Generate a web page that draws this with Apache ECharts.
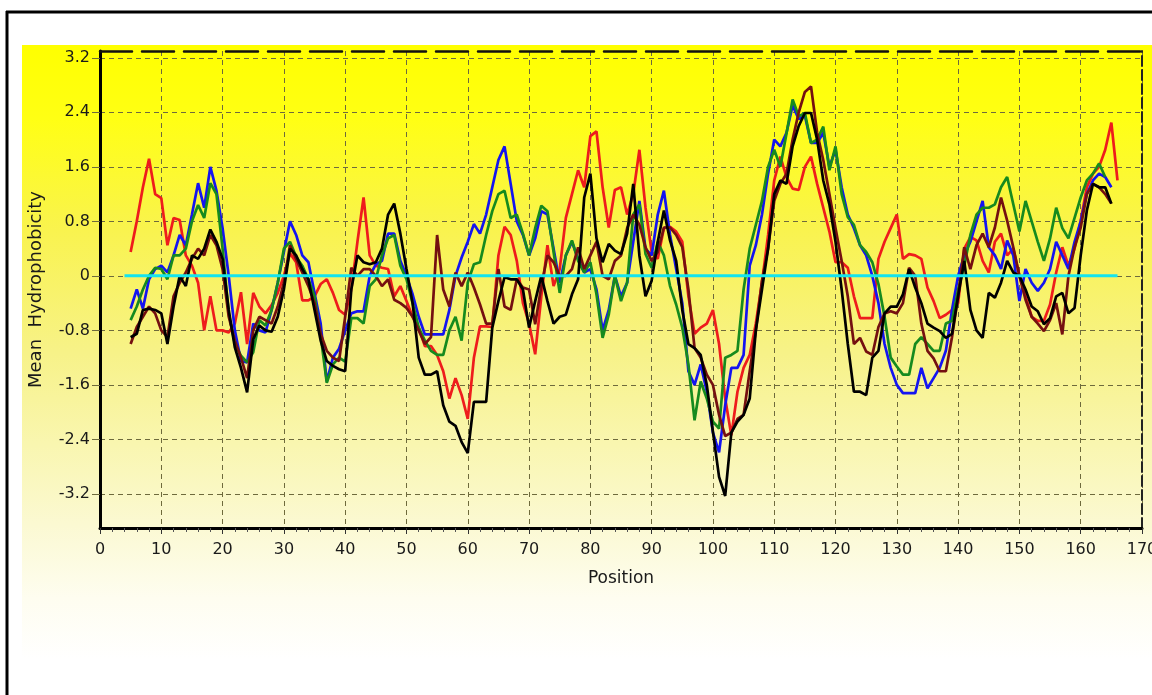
<!DOCTYPE html>
<html>
<head>
<meta charset="utf-8">
<script src="https://cdn.jsdelivr.net/npm/echarts@6/dist/echarts.min.js"></script>
<style>
html,body{margin:0;padding:0;background:#ffffff;}
#c{width:1152px;height:695px;}
</style>
</head>
<body>
<div id="c"></div>
<script>
// ---- data (positions start at 5, step 1) ----
const startPosition = 5;
const yTickValues = [-3.2, -2.4, -1.6, -0.8, 0, 0.8, 1.6, 2.4, 3.2];
const zeroLinePositions = [4, 166];
const zeroLineValues = [0, 0];

const redValues = [
  0.35, 0.8, 1.3, 1.72, 1.2, 1.14, 0.45, 0.85, 0.82, 0.3,
  0.15, -0.1, -0.8, -0.3, -0.8, -0.8, -0.83, -0.7, -0.24, -1.0,
  -0.25, -0.45, -0.55, -0.43, -0.25, 0.0, 0.33, 0.2, -0.36, -0.36,
  -0.3, -0.12, -0.05, -0.25, -0.5, -0.57, -0.2, 0.5, 1.15, 0.3,
  0.15, 0.12, 0.1, -0.3, -0.15, -0.37, -0.6, -0.76, -1.03, -1.03,
  -1.16, -1.4, -1.8, -1.5, -1.75, -2.1, -1.2, -0.74, -0.74, -0.75,
  0.3, 0.72, 0.6, 0.22, -0.4, -0.7, -1.15, -0.3, 0.45, -0.15,
  0.1, 0.85, 1.2, 1.55, 1.3, 2.05, 2.12, 1.3, 0.71, 1.26,
  1.3, 0.9, 1.2, 1.85, 1.0, 0.35, 0.25, 0.7, 0.72, 0.65,
  0.5, -0.3, -0.85, -0.76, -0.7, -0.5, -1.0, -1.8, -2.34, -1.7,
  -1.35, -1.16, -0.7, -0.1, 0.6, 1.4, 1.75, 1.45, 1.28, 1.26,
  1.6, 1.75, 1.35, 1.0, 0.65, 0.2, 0.2, 0.12, -0.3, -0.62,
  -0.62, -0.62, 0.25, 0.5, 0.7, 0.9, 0.25, 0.32, 0.3, 0.25,
  -0.17, -0.37, -0.62, -0.57, -0.5, -0.4, 0.4, 0.57, 0.52, 0.22,
  0.05, 0.5, 0.62, 0.3, 0.4, 0.0, -0.3, -0.6, -0.66, -0.66,
  -0.42, 0.05, 0.42, 0.15, 0.4, 0.81, 1.3, 1.5, 1.6, 1.85,
  2.25, 1.4
];

const blueValues = [
  -0.48, -0.2, -0.48, -0.05, 0.1, 0.15, 0.05, 0.3, 0.6, 0.45,
  0.9, 1.36, 1.0, 1.6, 1.25, 0.7, 0.0, -0.8, -1.25, -1.27,
  -0.7, -0.8, -0.83, -0.5, -0.1, 0.35, 0.8, 0.6, 0.3, 0.2,
  -0.25, -0.7, -1.55, -1.2, -1.07, -0.8, -0.55, -0.52, -0.52, 0.0,
  0.17, 0.22, 0.62, 0.62, 0.22, 0.0, -0.27, -0.6, -0.86, -0.86,
  -0.86, -0.86, -0.5, 0.0, 0.27, 0.5, 0.76, 0.62, 0.9, 1.3,
  1.7, 1.9, 1.35, 0.8, 0.6, 0.3, 0.55, 0.95, 0.9, 0.4,
  -0.1, 0.3, 0.5, 0.25, 0.05, 0.1, -0.2, -0.8, -0.5, 0.0,
  -0.3, -0.1, 0.5, 1.1, 0.4, 0.3, 0.9, 1.25, 0.6, 0.1,
  -0.4, -1.4, -1.6, -1.3, -1.7, -2.3, -2.59, -1.9, -1.35, -1.35,
  -1.16, 0.15, 0.45, 0.9, 1.5, 2.0, 1.9, 2.1, 2.5, 2.3,
  2.35, 1.95, 1.95, 2.1, 1.6, 1.85, 1.3, 0.9, 0.7, 0.45,
  0.3, 0.0, -0.4, -1.0, -1.35, -1.6, -1.72, -1.72, -1.72, -1.35,
  -1.65, -1.5, -1.35, -1.1, -0.5, 0.0, 0.3, 0.5, 0.8, 1.1,
  0.42, 0.3, 0.1, 0.52, 0.3, -0.37, 0.1, -0.1, -0.22, -0.1,
  0.1, 0.5, 0.3, 0.1, 0.5, 0.8, 1.2, 1.4, 1.5, 1.45,
  1.3
];

const greenValues = [
  -0.65, -0.45, -0.2, 0.0, 0.12, 0.1, -0.05, 0.3, 0.3, 0.4,
  0.8, 1.04, 0.85, 1.36, 1.2, 0.4, -0.55, -1.0, -1.17, -1.27,
  -1.12, -0.65, -0.73, -0.5, -0.1, 0.4, 0.5, 0.28, 0.15, -0.05,
  -0.3, -0.88, -1.57, -1.3, -1.2, -1.26, -0.62, -0.62, -0.7, -0.15,
  -0.05, 0.3, 0.55, 0.6, 0.15, -0.05, -0.4, -0.76, -0.95, -1.1,
  -1.16, -1.16, -0.8, -0.6, -0.95, -0.1, 0.17, 0.2, 0.6, 0.95,
  1.2, 1.25, 0.85, 0.9, 0.62, 0.3, 0.7, 1.03, 0.95, 0.35,
  -0.25, 0.3, 0.52, 0.22, 0.05, 0.2, -0.27, -0.91, -0.57, 0.0,
  -0.37, -0.1, 0.9, 1.05, 0.32, 0.12, 0.5, 0.3, -0.15, -0.42,
  -0.76, -1.3, -2.12, -1.55, -1.8, -2.14, -2.24, -1.2, -1.16, -1.1,
  -0.2, 0.4, 0.75, 1.1, 1.6, 1.85, 1.6, 2.09, 2.59, 2.34,
  2.39, 1.95, 2.0, 2.19, 1.55, 1.9, 1.2, 0.86, 0.75, 0.45,
  0.35, 0.2, -0.12, -0.6, -1.2, -1.33, -1.45, -1.45, -1.0, -0.9,
  -1.0, -1.1, -1.1, -0.7, -0.66, -0.2, 0.15, 0.6, 0.9, 1.0,
  1.0, 1.05, 1.3, 1.45, 1.05, 0.65, 1.1, 0.8, 0.5, 0.22,
  0.55, 1.0, 0.7, 0.55, 0.85, 1.15, 1.4, 1.5, 1.65, 1.45
];

const maroonValues = [
  -1.0, -0.75, -0.6, -0.45, -0.55, -0.8, -0.9, -0.3, -0.1, 0.05,
  0.25, 0.4, 0.3, 0.6, 0.45, 0.1, -0.6, -0.95, -1.2, -1.5,
  -0.8, -0.6, -0.65, -0.7, -0.45, -0.1, 0.45, 0.25, 0.05, -0.15,
  -0.4, -0.85, -1.1, -1.2, -1.25, -0.6, 0.12, 0.0, 0.1, 0.1,
  0.0, -0.15, -0.05, -0.35, -0.4, -0.47, -0.6, -0.8, -1.0, -0.9,
  0.6, -0.2, -0.45, 0.05, -0.15, 0.05, -0.17, -0.42, -0.7, -0.7,
  0.1, -0.45, -0.5, -0.05, -0.17, -0.2, -0.71, -0.15, 0.3, 0.2,
  0.0, 0.0, 0.1, 0.42, 0.1, 0.3, 0.5, 0.0, -0.05, 0.22,
  0.3, 0.7, 0.9, 0.75, 0.42, 0.22, 0.35, 0.71, 0.71, 0.6,
  0.42, -0.2, -1.06, -1.2, -1.45, -1.6, -2.04, -2.35, -2.3, -2.1,
  -2.04, -1.4, -0.8, -0.07, 0.4, 1.1, 1.35, 1.5, 2.0, 2.4,
  2.7, 2.78, 2.1, 1.7, 1.2, 0.7, 0.22, -0.3, -1.0, -0.91,
  -1.11, -1.16, -0.75, -0.55, -0.52, -0.55, -0.4, 0.12, 0.0, -0.7,
  -1.1, -1.21, -1.4, -1.4, -0.9, -0.3, 0.42, 0.1, 0.45, 0.62,
  0.42, 0.71, 1.15, 0.81, 0.42, 0.0, -0.35, -0.6, -0.7, -0.81,
  -0.65, -0.4, -0.86, 0.0, 0.42, 0.71, 1.2, 1.35, 1.3, 1.2,
  1.06
];

const blackValues = [
  -0.9, -0.85, -0.5, -0.48, -0.5, -0.55, -1.0, -0.45, 0.0, -0.15,
  0.3, 0.25, 0.4, 0.68, 0.5, 0.25, -0.5, -1.05, -1.35, -1.71,
  -0.93, -0.73, -0.8, -0.82, -0.6, -0.2, 0.4, 0.3, 0.1, -0.05,
  -0.5, -0.95, -1.25, -1.32, -1.37, -1.4, -0.2, 0.3, 0.2, 0.17,
  0.2, 0.4, 0.9, 1.06, 0.62, 0.1, -0.4, -1.2, -1.45, -1.45,
  -1.4, -1.9, -2.14, -2.2, -2.44, -2.6, -1.85, -1.85, -1.85, -0.76,
  -0.37, -0.02, -0.05, -0.05, -0.2, -0.76, -0.37, 0.0, -0.37, -0.7,
  -0.6, -0.57, -0.27, -0.05, 1.15, 1.5, 0.55, 0.2, 0.47, 0.37,
  0.32, 0.62, 1.35, 0.3, -0.3, -0.07, 0.5, 0.96, 0.52, 0.22,
  -0.5, -1.0, -1.06, -1.16, -1.6, -2.29, -2.95, -3.23, -2.3, -2.14,
  -2.04, -1.8, -0.8, -0.2, 0.4, 1.2, 1.4, 1.35, 1.9, 2.2,
  2.39, 2.39, 2.0, 1.4, 1.05, 0.5, -0.2, -1.0, -1.7, -1.7,
  -1.75, -1.2, -1.1, -0.55, -0.45, -0.45, -0.27, 0.1, -0.17, -0.4,
  -0.7, -0.76, -0.81, -0.91, -0.85, -0.3, 0.22, -0.5, -0.8, -0.91,
  -0.25, -0.32, -0.1, 0.22, 0.05, 0.0, -0.2, -0.45, -0.52, -0.71,
  -0.62, -0.3, -0.25, -0.55, -0.47, 0.3, 0.96, 1.35, 1.3, 1.3,
  1.06
];

// ---- build chart ----
function toPairs(values) {
  return values.map(function (v, i) { return [startPosition + i, v]; });
}

const FONT = 'DejaVu Sans';
const gridColor = '#6e6a3c';

function lineSeries(name, values, color, width) {
  return {
    name: name,
    type: 'line',
    data: toPairs(values),
    showSymbol: false,
    symbol: 'none',
    smooth: false,
    lineStyle: { color: color, width: width },
    xAxisIndex: 0,
    yAxisIndex: 0,
    silent: true
  };
}

const chart = echarts.init(document.getElementById('c'), null, { renderer: 'canvas' });

const option = {
  animation: false,
  backgroundColor: '#ffffff',
  textStyle: { fontFamily: FONT },
  graphic: [
    {
      type: 'rect', z: -100, silent: true,
      shape: { x: 22, y: 45, width: 1130, height: 615 },
      style: {
        fill: new echarts.graphic.LinearGradient(0, 0, 0, 1, [
          { offset: 0, color: '#ffff00' },
          { offset: 0.12, color: '#ffff14' },
          { offset: 0.3, color: '#f9f34e' },
          { offset: 0.5, color: '#f7f288' },
          { offset: 0.65, color: '#f9f6b0' },
          { offset: 0.78, color: '#fbf9d2' },
          { offset: 0.9, color: '#fefdf0' },
          { offset: 1, color: '#ffffff' }
        ])
      }
    },
    {
      type: 'line', silent: true, z: 100,
      shape: { x1: 7, y1: 11, x2: 7, y2: 695 },
      style: { stroke: '#000000', lineWidth: 3 }
    },
    {
      type: 'line', silent: true, z: 100,
      shape: { x1: 6, y1: 12, x2: 1152, y2: 12 },
      style: { stroke: '#000000', lineWidth: 3 }
    }
  ],
  grid: { left: 100, top: 51, width: 1042, height: 477, outerBoundsMode: 'none', containLabel: false },
  xAxis: [
    {
      type: 'value', min: 0, max: 170, interval: 10, position: 'bottom',
      name: 'Position', nameLocation: 'middle', nameGap: 42,
      nameTextStyle: { fontSize: 17, color: '#1a1a1a', fontFamily: FONT },
      axisLine: { onZero: false, lineStyle: { color: '#000000', width: 3 } },
      axisTick: { show: true, length: 6, lineStyle: { color: '#333333', width: 1 } },
      minorTick: { show: true, splitNumber: 5, length: 4, lineStyle: { color: '#555555', width: 1 } },
      axisLabel: { margin: 14, fontSize: 16, color: '#1a1a1a', fontFamily: FONT, hideOverlap: false },
      splitLine: { show: true, lineStyle: { type: [5, 4], color: gridColor, width: 1 } },
      minorSplitLine: { show: false }
    },
    {
      type: 'value', min: 0, max: 170, position: 'top',
      axisLine: { onZero: false, lineStyle: { color: '#111111', width: 2.5, type: [32, 10] } },
      axisTick: { show: false }, axisLabel: { show: false }, splitLine: { show: false }
    }
  ],
  yAxis: [
    {
      type: 'value', min: -3.7, max: 3.3, position: 'left',
      name: 'Mean  Hydrophobicity', nameLocation: 'middle', nameGap: 55, nameRotate: 90,
      nameTextStyle: { fontSize: 18, color: '#1a1a1a', fontFamily: FONT },
      axisLine: { onZero: false, lineStyle: { color: '#000000', width: 3 } },
      axisTick: { show: true, customValues: yTickValues, length: 8, lineStyle: { color: gridColor, width: 1 } },
      axisLabel: { customValues: yTickValues, margin: 10, fontSize: 16, color: '#1a1a1a', fontFamily: FONT },
      splitLine: { show: true, lineStyle: { type: [5, 4], color: gridColor, width: 1 } }
    },
    {
      type: 'value', min: -3.7, max: 3.3, position: 'right',
      axisLine: { onZero: false, lineStyle: { color: '#222222', width: 2, type: [10, 4] } },
      axisTick: { show: false }, axisLabel: { show: false }, splitLine: { show: false }
    }
  ],
  series: [
    lineSeries('Red', redValues, '#ee1c1c', 2.7),
    lineSeries('Blue', blueValues, '#1414f0', 2.7),
    lineSeries('Green', greenValues, '#168a1e', 2.7),
    lineSeries('Maroon', maroonValues, '#741010', 2.7),
    lineSeries('Black', blackValues, '#000000', 2.7),
    {
      name: 'Zero', type: 'line', showSymbol: false, symbol: 'none', silent: true,
      data: zeroLinePositions.map(function (p, i) { return [p, zeroLineValues[i]]; }),
      lineStyle: { color: '#14e4ee', width: 3 }, z: 3
    }
  ]
};

chart.setOption(option);
</script>
</body>
</html>
